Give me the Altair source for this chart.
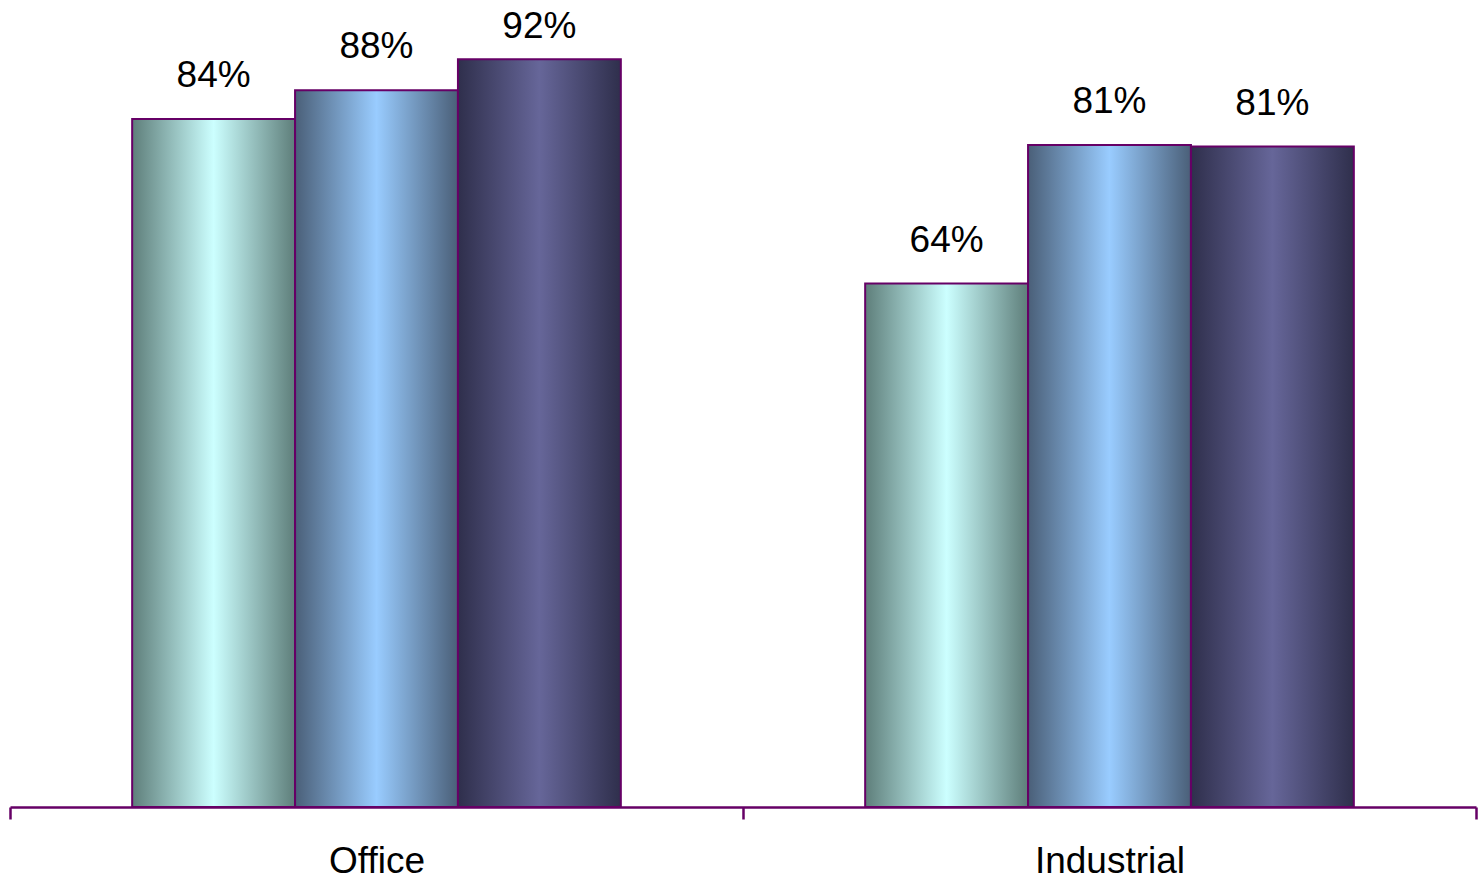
import altair as alt
import pandas as pd

categories = ["Office", "Industrial"]
series = ["Series 1", "Series 2", "Series 3"]
office_values = [84.4, 87.9, 91.7]
industrial_values = [64.2, 81.2, 81.0]

edge_colors = ["#5E7E7A", "#4A5F78", "#2F2F4C"]
center_colors = ["#CCFFFF", "#99CCFF", "#666699"]

rows = []
for s, v in zip(series, office_values):
    rows.append({"category": "Office", "series": s, "value": v})
for s, v in zip(series, industrial_values):
    rows.append({"category": "Industrial", "series": s, "value": v})
df = pd.DataFrame(rows)

FONT = "Liberation Sans"
PURPLE = "#660066"

x_enc = alt.X(
    "category:N",
    sort=categories,
    scale=alt.Scale(domain=categories, paddingInner=0, paddingOuter=0),
    axis=alt.Axis(
        title=None,
        labelAngle=0,
        labelFont=FONT,
        labelFontSize=37,
        labelColor="black",
        labelPadding=24,
        domainColor=PURPLE,
        domainWidth=2.5,
        tickColor=PURPLE,
        tickWidth=2.5,
        tickSize=12,
        tickBand="extent",
        grid=False,
    ),
)
xoff_enc = alt.XOffset(
    "series:N",
    scale=alt.Scale(domain=series, paddingInner=0, paddingOuter=0.75),
)
y_scale = alt.Scale(domain=[0, 98], nice=False, zero=True)
y_enc = alt.Y("value:Q", scale=y_scale, axis=None)

base = alt.Chart(df)

layers = []
for s, edge, center in zip(series, edge_colors, center_colors):
    grad = alt.Gradient(
        gradient="linear",
        x1=0, x2=1, y1=0, y2=0,
        stops=[
            alt.GradientStop(color=edge, offset=0),
            alt.GradientStop(color=center, offset=0.5),
            alt.GradientStop(color=edge, offset=1),
        ],
    )
    layer = (
        base.transform_filter(alt.datum.series == s)
        .mark_bar(fill=grad, stroke=PURPLE, strokeWidth=2)
        .encode(x=x_enc, xOffset=xoff_enc, y=y_enc)
    )
    layers.append(layer)

# labels are kept inside the plot area, as the spreadsheet does for the tallest bar
labels = (
    base.transform_calculate(
        label="format(datum.value, '.0f') + '%'",
        label_pos="min(datum.value, 90.4)",
    )
    .mark_text(font=FONT, fontSize=37, color="black", baseline="alphabetic", dy=-32)
    .encode(
        x=x_enc,
        xOffset=xoff_enc,
        y=alt.Y("label_pos:Q", scale=y_scale, axis=None),
        text="label:N",
    )
)

chart = (
    alt.layer(*layers, labels)
    .properties(
        width=1466,
        height=799,
        padding={"left": 10, "top": 8, "right": 3, "bottom": 73},
        autosize=alt.AutoSizeParams(type="none"),
        background="white",
    )
    .configure_view(stroke=None)
)

chart.save("out.html", embed_options={"renderer": "svg", "actions": False})
